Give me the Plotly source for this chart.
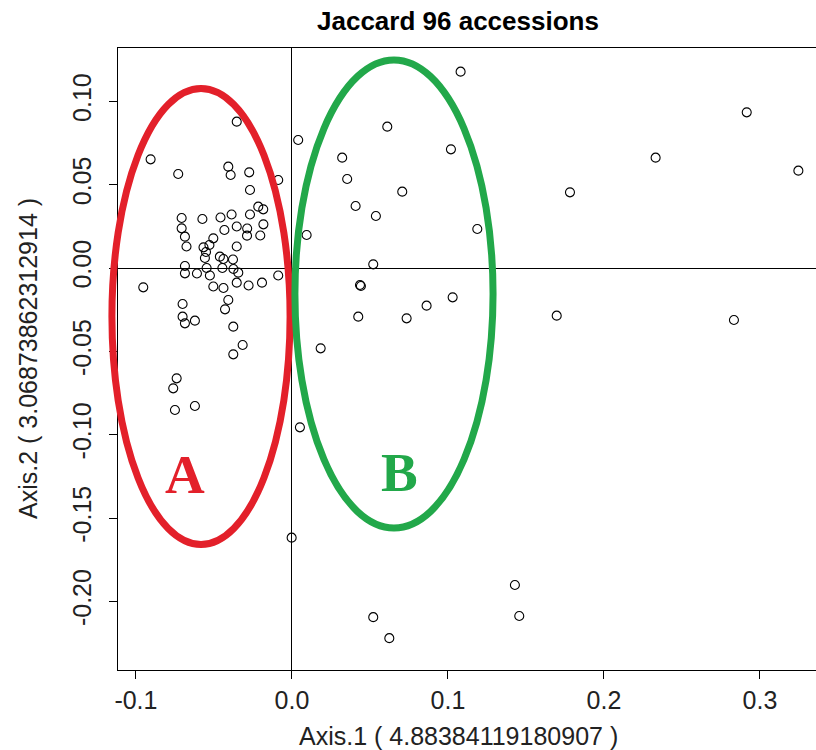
import plotly.graph_objects as go

# ---- data (Axis.1, Axis.2 coordinates of the 96 accessions) ----
axis1 = [
    -0.0354, -0.0906, -0.0729, -0.0408, -0.0393, -0.0274, -0.0269, -0.0088, -0.0216, -0.0184,
    -0.0707, -0.0574, -0.0458, -0.0387, -0.0269, -0.0707, -0.0433, -0.0354, -0.0287, -0.0183,
    -0.0686, -0.0504, -0.0288, -0.0203, -0.0676, -0.0567, -0.0529, -0.0354, -0.0558, -0.0462,
    -0.0439, -0.0378, -0.0551, -0.0686, -0.0686, -0.0609, -0.0547, -0.0526, -0.0446, -0.0375,
    -0.0344, -0.0504, -0.0439, -0.0354, -0.0278, -0.0192, -0.0088, -0.0953, -0.0701, -0.0408,
    -0.0429, -0.0701, -0.0686, -0.0622, -0.0376, -0.0316, -0.0376, -0.0739, -0.0761, -0.0750,
    -0.0622,
    0.0040, 0.1081, 0.0611, 0.1019, 0.0322, 0.0354, 0.0707, 0.0408, 0.0538, 0.1188,
    0.0094, 0.0521, 0.0436, 0.0442, 0.1030, 0.0863, 0.0425, 0.0735, 0.0184,
    0.2915, 0.2331, 0.3246, 0.1782, 0.1697, 0.2833,
    0.0051, -0.0002, 0.1429, 0.1457, 0.0521, 0.0624,
]
axis2 = [
    0.0878, 0.0652, 0.0564, 0.0608, 0.0558, 0.0574, 0.0468, 0.0528, 0.0368, 0.0352,
    0.0300, 0.0294, 0.0303, 0.0321, 0.0321, 0.0238, 0.0228, 0.0249, 0.0237, 0.0262,
    0.0188, 0.0178, 0.0194, 0.0195, 0.0129, 0.0124, 0.0138, 0.0129, 0.0060, 0.0068,
    0.0054, 0.0051, 0.0096, 0.0012, -0.0032, -0.0033, 0.0000, -0.0045, 0.0000, -0.0006,
    -0.0028, -0.0111, -0.0120, -0.0088, -0.0105, -0.0088, -0.0045, -0.0116, -0.0216, -0.0192,
    -0.0248, -0.0292, -0.0332, -0.0316, -0.0352, -0.0462, -0.0518, -0.0662, -0.0722, -0.0852,
    -0.0828,
    0.0768, 0.1178, 0.0848, 0.0712, 0.0662, 0.0534, 0.0458, 0.0372, 0.0312, 0.0234,
    0.0198, 0.0022, -0.0102, -0.0108, -0.0176, -0.0226, -0.0292, -0.0302, -0.0482,
    0.0934, 0.0662, 0.0584, 0.0454, -0.0286, -0.0312,
    -0.0956, -0.1618, -0.1902, -0.2088, -0.2095, -0.2221,
]

x_ticks = [-0.1, 0.0, 0.1, 0.2, 0.3]
y_ticks = [-0.20, -0.15, -0.10, -0.05, 0.00, 0.05, 0.10]
x_ticktext = [f"{v:.1f}" for v in x_ticks]
y_ticktext = [f"{v:.2f}" for v in y_ticks]

title_text = "Jaccard 96 accessions"
x_title = "Axis.1 ( 4.88384119180907 )"
y_title = "Axis.2 ( 3.06873862312914 )"

# group ellipses: label, centre (x, y), semi-axes (x, y)
group_labels = ["A", "B"]
group_cx = [-0.0583, 0.0654]
group_cy = [-0.0291, -0.0156]
group_rx = [0.0571, 0.0635]
group_ry = [0.1368, 0.1404]
group_colors = ["#E3202A", "#22A84A"]
label_x = [-0.0686, 0.0692]
label_y = [-0.1236, -0.1224]

x_range = [-0.1115, 0.3359]
y_range = [-0.2412, 0.1320]

W, H = 816, 750
ML, MR, MT, MB = 118, 0, 48, 80
FONT = "Liberation Sans"

fig = go.Figure()
fig.add_trace(go.Scatter(
    x=axis1, y=axis2, mode="markers",
    marker=dict(symbol="circle-open", size=9, color="black", line=dict(width=1.1, color="black")),
    showlegend=False, hoverinfo="x+y",
))

def px(v):
    return (v - x_range[0]) / (x_range[1] - x_range[0])

def py(v):
    return (v - y_range[0]) / (y_range[1] - y_range[0])

shapes = []
for cx, cy, rx, ry, col in zip(group_cx, group_cy, group_rx, group_ry, group_colors):
    shapes.append(dict(
        type="circle", xref="paper", yref="paper",
        x0=px(cx - rx), x1=px(cx + rx), y0=py(cy - ry), y1=py(cy + ry),
        line=dict(color=col, width=7), layer="above",
    ))

annotations = []
for lab, lx, ly, col in zip(group_labels, label_x, label_y, group_colors):
    annotations.append(dict(
        x=lx, y=ly, xref="x", yref="y", text=f"<b>{lab}</b>", showarrow=False,
        font=dict(family="Liberation Serif", size=55, color=col),
        xanchor="center", yanchor="middle",
    ))

plot_w = W - ML - MR
plot_h = H - MT - MB
annotations.append(dict(
    x=(458 - ML) / plot_w, y=(H - MB - 21) / plot_h, xref="paper", yref="paper",
    text=f"<b>{title_text}</b>", showarrow=False,
    font=dict(family=FONT, size=26, color="black"),
    xanchor="center", yanchor="middle",
))
annotations.append(dict(
    x=(458 - ML) / plot_w, y=(H - MB - 736) / plot_h, xref="paper", yref="paper",
    text=x_title, showarrow=False,
    font=dict(family=FONT, size=25, color="#222"),
    xanchor="center", yanchor="middle",
))
annotations.append(dict(
    x=(28 - ML) / plot_w, y=(H - MB - 359) / plot_h, xref="paper", yref="paper",
    text=y_title, showarrow=False, textangle=-90,
    font=dict(family=FONT, size=25, color="#222"),
    xanchor="center", yanchor="middle",
))

fig.update_layout(
    width=W, height=H,
    margin=dict(l=ML, r=MR, t=MT, b=MB),
    paper_bgcolor="white", plot_bgcolor="white",
    shapes=shapes, annotations=annotations,
    font=dict(family=FONT, size=25, color="black"),
)
fig.update_xaxes(
    range=x_range, tickvals=x_ticks, ticktext=x_ticktext,
    showgrid=False, zeroline=True, zerolinecolor="black", zerolinewidth=1,
    showline=True, linecolor="black", linewidth=1, mirror=True,
    ticks="outside", ticklen=8, tickcolor="black",
    tickfont=dict(family=FONT, size=25, color="#222"),
)
fig.update_yaxes(
    range=y_range, tickvals=y_ticks, ticktext=y_ticktext,
    showgrid=False, zeroline=True, zerolinecolor="black", zerolinewidth=1,
    showline=True, linecolor="black", linewidth=1,
    ticks="outside", ticklen=8, tickcolor="black", tickangle=-90,
    tickfont=dict(family=FONT, size=25, color="#222"),
    ticklabelstandoff=8,
)

fig.write_html(
    "out.html",
    config={"displayModeBar": False},
    post_script="document.body.style.margin='0';document.body.style.overflow='hidden';",
)
